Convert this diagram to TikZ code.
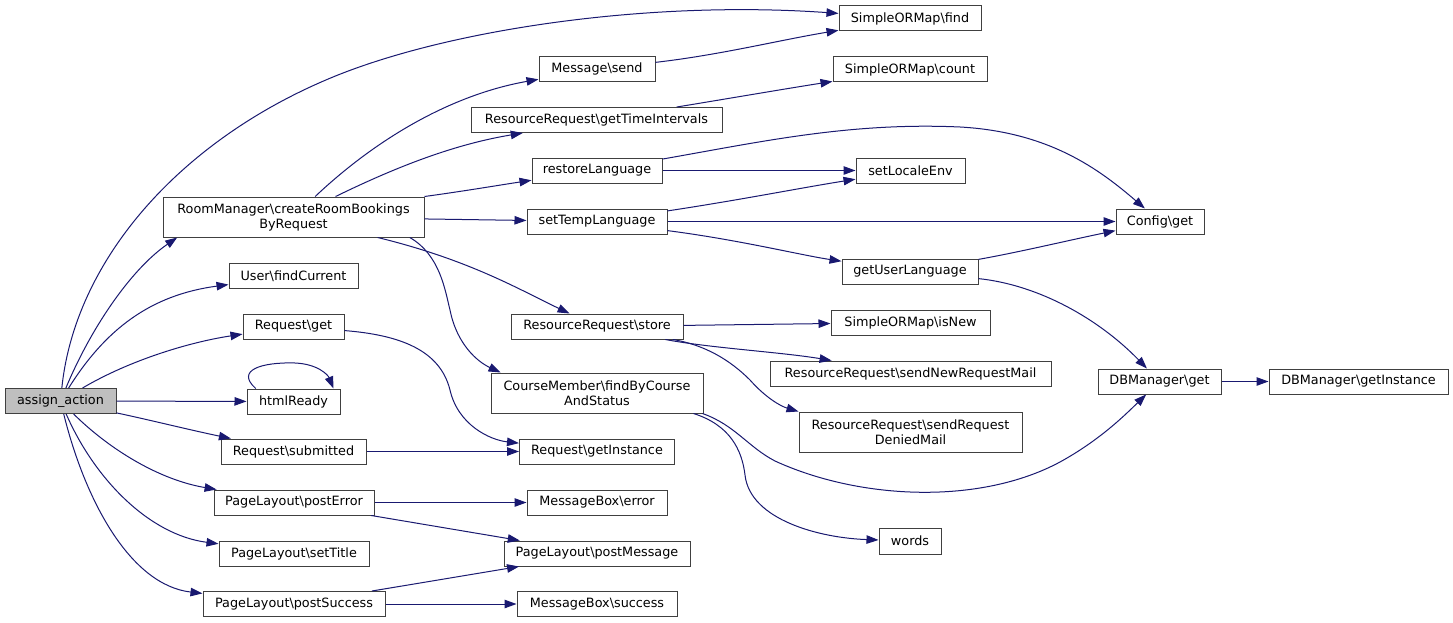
\documentclass[tikz,border=0pt]{standalone}
\usepackage{fontspec}
\setmainfont{DejaVu Sans}
\usetikzlibrary{arrows.meta}
\definecolor{edgeblue}{HTML}{191970}
\definecolor{boxgray}{HTML}{404040}
\definecolor{rootfill}{HTML}{BFBFBF}
\newcommand{\BSx}{\textbackslash}
\begin{document}
\begin{tikzpicture}[x=1pt,y=-1pt,
  fn/.style={draw=boxgray, line width=1pt, fill=white, inner sep=0pt,
    minimum height=25pt, font=\fontsize{12.8}{15}\selectfont, align=center},
  twoline/.style={minimum height=40pt},
  root/.style={fill=rootfill},
  callarrow/.style={draw=edgeblue, line width=1pt, -{Triangle[length=12pt,width=8.5pt]}}]
\fill[white] (0,0) rectangle (1453,623);
\useasboundingbox (0,0) rectangle (1453,623);

% rank 0
\node[fn, root, minimum width=111pt] (A) at (60.5,401) {assign\_action};
% rank 1
\node[fn, twoline, minimum width=261pt] (room) at (293.5,217) {RoomManager\BSx createRoomBookings\\ByRequest};
\node[fn, minimum width=129pt] (findcur) at (293.5,276) {User\BSx findCurrent};
\node[fn, minimum width=101pt] (rget) at (293.5,326.5) {Request\BSx get};
\node[fn, minimum width=93pt] (html) at (293.5,401.5) {htmlReady};
\node[fn, minimum width=145pt] (submitted) at (293.5,451.5) {Request\BSx submitted};
\node[fn, minimum width=160pt] (posterr) at (294,502.5) {PageLayout\BSx postError};
\node[fn, minimum width=150pt] (settitle) at (294,553.5) {PageLayout\BSx setTitle};
\node[fn, minimum width=182pt] (postsucc) at (294,604) {PageLayout\BSx postSuccess};
% rank 2
\node[fn, minimum width=116pt] (msend) at (597,69) {Message\BSx send};
\node[fn, minimum width=251pt] (gti) at (596.5,120) {ResourceRequest\BSx getTimeIntervals};
\node[fn, minimum width=130pt] (restore) at (597,170.5) {restoreLanguage};
\node[fn, minimum width=140pt] (temp) at (597,221.5) {setTempLanguage};
\node[fn, minimum width=172pt] (store) at (597,326.5) {ResourceRequest\BSx store};
\node[fn, twoline, minimum width=212pt] (course) at (597,393) {CourseMember\BSx findByCourse\\AndStatus};
\node[fn, minimum width=155pt] (rinst) at (597,451.5) {Request\BSx getInstance};
\node[fn, minimum width=140pt] (mberr) at (597,502.5) {MessageBox\BSx error};
\node[fn, minimum width=186pt] (postmsg) at (597,553.5) {PageLayout\BSx postMessage};
\node[fn, minimum width=160pt] (mbsucc) at (597,604) {MessageBox\BSx success};
% rank 3
\node[fn, minimum width=142pt] (find) at (910,18.5) {SimpleORMap\BSx find};
\node[fn, minimum width=154pt] (count) at (910,69.5) {SimpleORMap\BSx count};
\node[fn, minimum width=109pt] (locale) at (910.5,170.5) {setLocaleEnv};
\node[fn, minimum width=136pt] (userlang) at (910,271.5) {getUserLanguage};
\node[fn, minimum width=159pt] (isnew) at (910.5,322.5) {SimpleORMap\BSx isNew};
\node[fn, minimum width=281pt] (newmail) at (910.5,373.5) {ResourceRequest\BSx sendNewRequestMail};
\node[fn, twoline, minimum width=223pt] (denied) at (910.5,432) {ResourceRequest\BSx sendRequest\\DeniedMail};
\node[fn, minimum width=62pt, minimum height=26pt] (words) at (910,541) {words};
% rank 4
\node[fn, minimum width=88pt] (config) at (1160,221.5) {Config\BSx get};
\node[fn, minimum width=123pt] (dbget) at (1159.5,381.5) {DBManager\BSx get};
% rank 5
\node[fn, minimum width=179pt] (dbinst) at (1358.5,381.5) {DBManager\BSx getInstance};

% edges from assign_action
\draw[callarrow] (A) .. controls (75,260) and (180,140) .. (333,77) .. controls (450,29) and (650,0) .. (find);
\draw[callarrow] (A) .. controls (90,330) and (130,270) .. (room.190);
\draw[callarrow] (A) .. controls (105,330) and (150,295) .. (findcur);
\draw[callarrow] (A) .. controls (130,360) and (190,342) .. (rget);
\draw[callarrow] (A) -- (html);
\draw[callarrow] (html.161) .. controls (235,370) and (262,362) .. (295,363) .. controls (318,364) and (328,375) .. (html.18);
\draw[callarrow] (A) .. controls (150,420) and (190,430) .. (submitted);
\draw[callarrow] (A) .. controls (110,450) and (160,480) .. (posterr);
\draw[callarrow] (A) .. controls (95,480) and (150,535) .. (settitle);
\draw[callarrow] (A) .. controls (85,500) and (130,585) .. (postsucc);

% edges from RoomManager
\draw[callarrow] (room) .. controls (375,140) and (450,95) .. (msend);
\draw[callarrow] (room) .. controls (390,170) and (450,145) .. (gti.190);
\draw[callarrow] (room.north east) .. controls (465,191) and (500,185) .. (restore);
\draw[callarrow] (room) -- (temp);
\draw[callarrow] (room) .. controls (470,260) and (520,290) .. (store);
\draw[callarrow] (room.-10.4) .. controls (440,255) and (445,290) .. (450,310) .. controls (457,345) and (478,362) .. (course.168);

% rank 2 edges
\draw[callarrow] (msend) .. controls (720,55) and (780,40) .. (find);
\draw[callarrow] (gti) .. controls (720,100) and (790,88) .. (count);
\draw[callarrow] (restore) -- (locale);
\draw[callarrow] (restore) .. controls (760,142) and (850,122) .. (960,127) .. controls (1050,132) and (1100,170) .. (config);
\draw[callarrow] (temp) .. controls (740,200) and (800,188) .. (locale);
\draw[callarrow] (temp) -- (config);
\draw[callarrow] (temp) .. controls (740,240) and (800,255) .. (userlang);
\draw[callarrow] (store) -- (isnew);
\draw[callarrow] (store) .. controls (710,348) and (780,352) .. (newmail);
\draw[callarrow] (store) .. controls (705,345) and (730,360) .. (750,380) .. controls (765,397) and (780,406) .. (denied.north west);
\draw[callarrow] (course.-12) .. controls (730,425) and (742,450) .. (745,475) .. controls (750,520) and (820,538) .. (words);
\draw[callarrow] (course.-11.5) .. controls (735,425) and (748,447) .. (775,461) .. controls (860,500) and (980,505) .. (1060,462) .. controls (1100,440) and (1125,415) .. (dbget);
\draw[callarrow] (rget) .. controls (400,335) and (440,350) .. (450,390) .. controls (458,425) and (490,440) .. (rinst);
\draw[callarrow] (submitted) -- (rinst);
\draw[callarrow] (posterr) -- (mberr);
\draw[callarrow] (posterr) -- (postmsg);
\draw[callarrow] (postsucc) -- (postmsg);
\draw[callarrow] (postsucc) -- (mbsucc);

% rank 3/4 edges
\draw[callarrow] (userlang) .. controls (1020,252) and (1070,240) .. (config);
\draw[callarrow] (userlang) .. controls (1040,285) and (1100,320) .. (dbget);
\draw[callarrow] (dbget) -- (dbinst);
\end{tikzpicture}
\end{document}
